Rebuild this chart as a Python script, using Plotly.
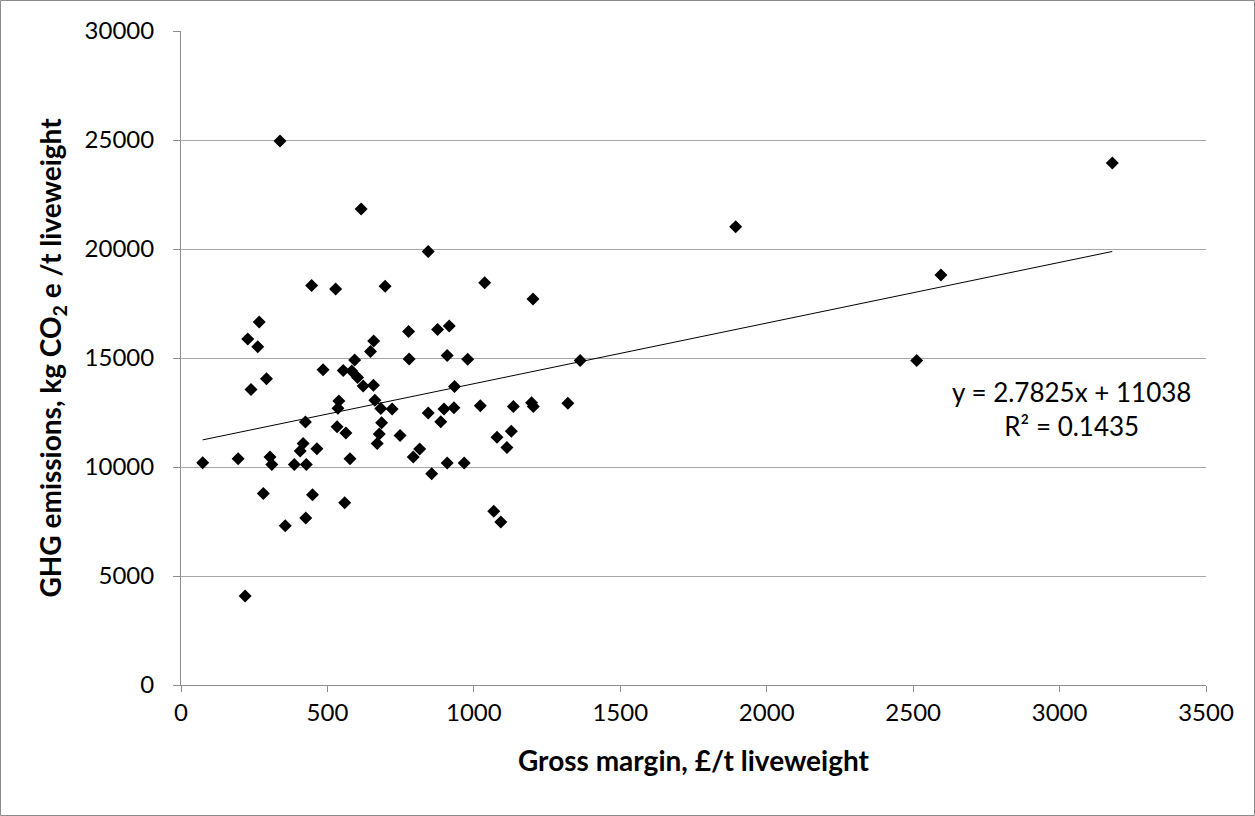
import plotly.graph_objects as go

gross_margin = [338, 615, 446, 528, 267, 228, 262, 658, 647, 593, 485, 554, 583, 603, 622, 657,
                292, 239, 539, 536, 662, 682, 425, 533, 563, 670, 417, 407, 464, 577, 195, 74,
                304, 310, 387, 428, 281, 449, 559, 356, 426, 219, 844, 697, 1037, 1202, 777, 876,
                916, 779, 909, 979, 934, 721, 844, 898, 932, 1022, 1135, 1197, 1203, 1321, 685,
                677, 748, 887, 1079, 1128, 1113, 815, 793, 909, 967, 856, 1068, 1092, 1363,
                1894, 2512, 2595, 3180]
ghg = [24950, 21830, 18320, 18160, 16650, 15870, 15520, 15780, 15300, 14910, 14460, 14430, 14400,
       14100, 13720, 13750, 14050, 13560, 13030, 12690, 13060, 12680, 12060, 11850, 11560, 11080,
       11080, 10730, 10840, 10380, 10380, 10200, 10460, 10120, 10120, 10110, 8780, 8730, 8360,
       7310, 7660, 4080, 19880, 18290, 18450, 17710, 16210, 16310, 16470, 14950, 15120, 14940,
       13690, 12660, 12480, 12660, 12720, 12810, 12770, 12950, 12770, 12920, 12030, 11510, 11440,
       12080, 11360, 11640, 10890, 10830, 10460, 10180, 10180, 9690, 7970, 7480, 14880,
       21020, 14880, 18810, 23950]

slope = 2.7825
intercept = 11038
eq_text = "y = 2.7825x + 11038<br>R² = 0.1435"

x_ticks = [0, 500, 1000, 1500, 2000, 2500, 3000, 3500]
y_ticks = [0, 5000, 10000, 15000, 20000, 25000, 30000]

FONT = "Lato"

fig = go.Figure()
trend_x = [min(gross_margin), max(gross_margin)]
trend_y = [slope * v + intercept for v in trend_x]
fig.add_trace(go.Scatter(x=trend_x, y=trend_y, mode="lines",
                         line=dict(color="black", width=1), hoverinfo="skip", showlegend=False))
fig.add_trace(go.Scatter(x=gross_margin, y=ghg, mode="markers",
                         marker=dict(symbol="diamond", size=10, color="black"),
                         showlegend=False))

fig.update_layout(
    width=1255, height=816,
    margin=dict(l=181, r=49, t=31, b=131),
    paper_bgcolor="white", plot_bgcolor="white",
    font=dict(family=FONT, size=24, color="black"),
    xaxis=dict(range=[0, 3500], tickvals=x_ticks, tickformat="d", showgrid=False, zeroline=False,
               showline=True, linecolor="#8c8c8c", linewidth=1,
               ticks="outside", ticklen=6, tickcolor="#8c8c8c",
               tickfont=dict(family=FONT, size=24),
               title=dict(text="<b>Gross margin, £/t liveweight</b>", standoff=26,
                          font=dict(family=FONT, size=28))),
    yaxis=dict(range=[0, 30000], tickvals=y_ticks, tickformat="d", showgrid=True,
               gridcolor="#a6a6a6", gridwidth=1, zeroline=False,
               showline=True, linecolor="#8c8c8c", linewidth=1,
               ticks="outside", ticklen=7, tickcolor="#8c8c8c", ticklabelstandoff=14,
               tickfont=dict(family=FONT, size=24),
               title=dict(text="<b>GHG emissions, kg CO<sub>2</sub> e /t liveweight</b>",
                          standoff=14, font=dict(family=FONT, size=28))),
    shapes=[dict(type="rect", xref="paper", yref="paper",
                 x0=(0.5 - 181) / 1025, x1=(1254.5 - 181) / 1025,
                 y0=(685 - 815.5) / 654, y1=(685 - 0.5) / 654,
                 line=dict(color="#8c8c8c", width=1), fillcolor="rgba(0,0,0,0)", layer="below")],
    annotations=[dict(text=eq_text, x=3040, y=12650, xref="x", yref="y",
                      showarrow=False, align="center",
                      font=dict(family=FONT, size=26, color="black"))],
)

fig.write_html("out.html")
